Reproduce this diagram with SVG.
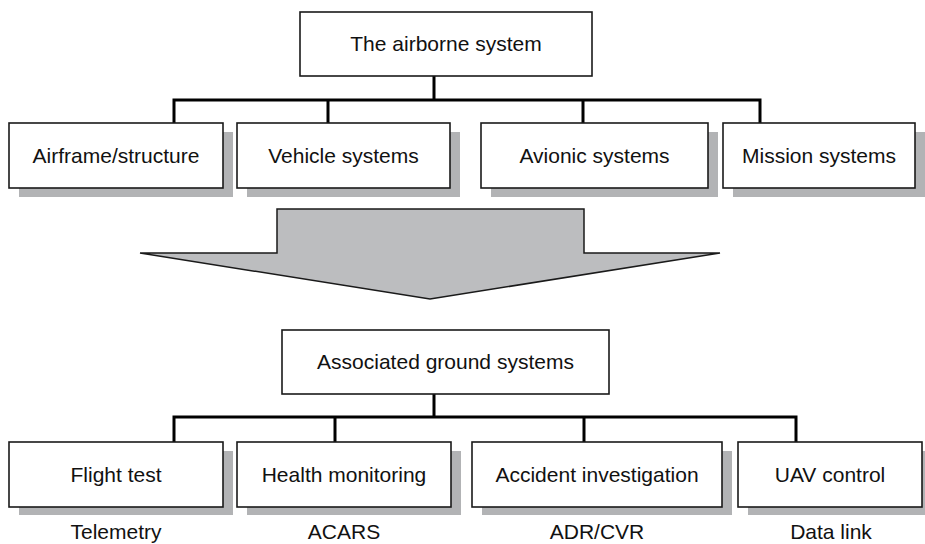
<svg xmlns="http://www.w3.org/2000/svg" width="925" height="544" viewBox="0 0 925 544">
  <style>
    .box { fill: #ffffff; stroke: #1a1a1a; stroke-width: 1.6; }
    .shadow { fill: #b2b3b5; }
    .wire { fill: none; stroke: #000000; stroke-width: 3; stroke-linejoin: miter; }
    .lbl { font-family: "Liberation Sans", Arial, sans-serif; font-size: 21px; fill: #111111; text-anchor: middle; }
    .arrow { fill: #bcbdbf; stroke: #1a1a1a; stroke-width: 1.5; stroke-linejoin: miter; }
  </style>

  <!-- connectors -->
  <g id="connectors">
    <path class="wire" d="M434,76 V100 M174,123 V100 H760 V123 M328,100 V123 M583,100 V123"/>
    <path class="wire" d="M434,394 V417 M174,442 V417 H796 V442 M335,417 V442 M584,417 V442"/>
  </g>

  <!-- top level -->
  <g id="airborne">
    <rect class="box" x="300" y="12" width="292" height="64"/>
    <text class="lbl" x="446" y="51">The airborne system</text>
  </g>

  <!-- airborne subsystems -->
  <g id="airframe">
    <rect class="shadow" x="19" y="132" width="214" height="65"/>
    <rect class="box" x="9" y="123" width="214" height="65"/>
    <text class="lbl" x="116" y="163">Airframe/structure</text>
  </g>
  <g id="vehicle">
    <rect class="shadow" x="247" y="132" width="213" height="65"/>
    <rect class="box" x="237" y="123" width="213" height="65"/>
    <text class="lbl" x="343.5" y="163">Vehicle systems</text>
  </g>
  <g id="avionic">
    <rect class="shadow" x="491" y="132" width="227" height="65"/>
    <rect class="box" x="481" y="123" width="227" height="65"/>
    <text class="lbl" x="594.5" y="163">Avionic systems</text>
  </g>
  <g id="mission">
    <rect class="shadow" x="733" y="132" width="192" height="65"/>
    <rect class="box" x="723" y="123" width="192" height="65"/>
    <text class="lbl" x="819" y="163">Mission systems</text>
  </g>

  <!-- big downward arrow -->
  <g id="flow-arrow">
    <polygon class="arrow" points="277,209 584,209 584,253 720,253 430,299 140,253 277,253"/>
  </g>

  <!-- ground level -->
  <g id="ground">
    <rect class="box" x="282" y="330" width="327" height="64"/>
    <text class="lbl" x="445.5" y="369">Associated ground systems</text>
  </g>

  <g id="flight-test">
    <rect class="shadow" x="19" y="451" width="214" height="64"/>
    <rect class="box" x="9" y="442" width="214" height="65"/>
    <text class="lbl" x="116" y="482">Flight test</text>
    <text class="lbl" x="116" y="539">Telemetry</text>
  </g>
  <g id="health">
    <rect class="shadow" x="247" y="451" width="214" height="64"/>
    <rect class="box" x="237" y="442" width="214" height="65"/>
    <text class="lbl" x="344" y="482">Health monitoring</text>
    <text class="lbl" x="344" y="539">ACARS</text>
  </g>
  <g id="accident">
    <rect class="shadow" x="482" y="451" width="250" height="64"/>
    <rect class="box" x="472" y="442" width="250" height="65"/>
    <text class="lbl" x="597" y="482">Accident investigation</text>
    <text class="lbl" x="597" y="539">ADR/CVR</text>
  </g>
  <g id="uav">
    <rect class="shadow" x="748" y="451" width="184" height="64"/>
    <rect class="box" x="738" y="442" width="184" height="65"/>
    <text class="lbl" x="830" y="482">UAV control</text>
    <text class="lbl" x="831" y="539">Data link</text>
  </g>
</svg>
